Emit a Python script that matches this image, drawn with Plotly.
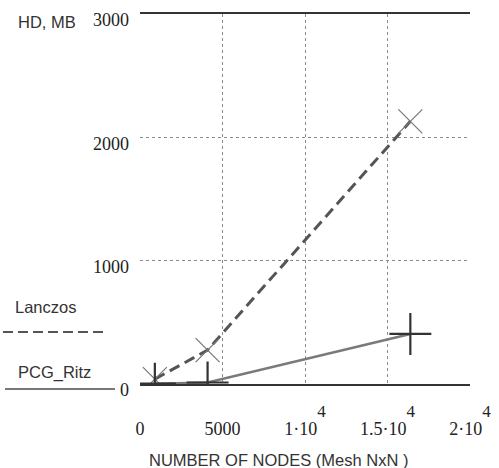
import plotly.graph_objects as go

# Data (mesh sizes N x N)
nodes = [900, 4096, 16384]
lanczos_mb = [40, 275, 2130]
pcg_ritz_mb = [3, 12, 406]

x_tickvals = [0, 5000, 10000, 15000, 20000]
sup4 = "<span style='font-size:17px;baseline-shift:18px'>4</span>"
x_ticktext = ["0", "5000", "1·10" + sup4, "1.5·10" + sup4, "2·10" + sup4]
y_tickvals = [0, 1000, 2000, 3000]
y_ticktext = ["0", "1000", "2000", "3000"]

serif = "Liberation Serif, Times New Roman, serif"
sans = "Liberation Sans, Arial, sans-serif"

fig = go.Figure()
fig.add_trace(go.Scatter(
    x=nodes, y=lanczos_mb, mode="lines+markers", name="Lanczos",
    line=dict(color="#555555", width=3, dash="11px,6px"),
    marker=dict(symbol="x-thin", size=24, line=dict(color="#777777", width=1.2), color="#777777"),
))
fig.add_trace(go.Scatter(
    x=nodes, y=pcg_ritz_mb, mode="lines+markers", name="PCG_Ritz",
    line=dict(color="#7a7a7a", width=2.5),
    marker=dict(symbol="cross-thin", size=30, line=dict(color="#333333", width=2.2), color="#333333"),
))

fig.update_xaxes(
    range=[0, 20000], tickvals=x_tickvals, ticktext=x_ticktext, automargin=False,
    showgrid=True, gridcolor="#8a8a8a", gridwidth=1, griddash="dot",
    zeroline=False, showline=True, mirror=True, linecolor="#333333", linewidth=2,
    ticks="", ticklabelstandoff=27,
    tickfont=dict(family=serif, size=18, color="#222222"),
)
fig.update_yaxes(
    range=[0, 3000], tickvals=y_tickvals, ticktext=y_ticktext, automargin=False,
    showgrid=True, gridcolor="#8a8a8a", gridwidth=1, griddash="dot",
    zeroline=False, showline=False, ticks="", ticklabelstandoff=10, ticklabelshift=6,
    tickfont=dict(family=serif, size=18, color="#222222"),
)

txt = dict(family=sans, size=16.5, color="#333333")
fig.add_annotation(text="HD, MB", xref="paper", yref="paper", x=-0.3758, y=0.978,
                   xanchor="left", yanchor="middle", showarrow=False, font=txt)
fig.add_annotation(text="NUMBER OF NODES (Mesh NxN )", xref="paper", yref="paper",
                   x=0.421, y=-0.2054, xanchor="center", yanchor="middle", showarrow=False, font=txt)
fig.add_annotation(text="Lanczos", xref="paper", yref="paper", x=-0.3848, y=0.2068,
                   xanchor="left", yanchor="middle", showarrow=False, font=txt)
fig.add_annotation(text="PCG_Ritz", xref="paper", yref="paper", x=-0.3758, y=0.0311,
                   xanchor="left", yanchor="middle", showarrow=False, font=txt)
fig.add_shape(type="line", xref="paper", yref="paper", x0=-0.4152, x1=-0.097, y0=0.1405, y1=0.1405,
              line=dict(color="#555555", width=2, dash="10px,5px"))
fig.add_shape(type="line", xref="paper", yref="paper", x0=-0.409, x1=-0.0758, y0=-0.0135, y1=-0.0135,
              line=dict(color="#777777", width=2))

fig.update_layout(
    width=499, height=468, showlegend=False,
    margin=dict(l=140, r=29, t=14, b=84),
    plot_bgcolor="white", paper_bgcolor="white",
)
fig.write_html("out.html", config={"displayModeBar": False},
               post_script="document.body.style.margin='0px';document.body.style.overflow='hidden';")
